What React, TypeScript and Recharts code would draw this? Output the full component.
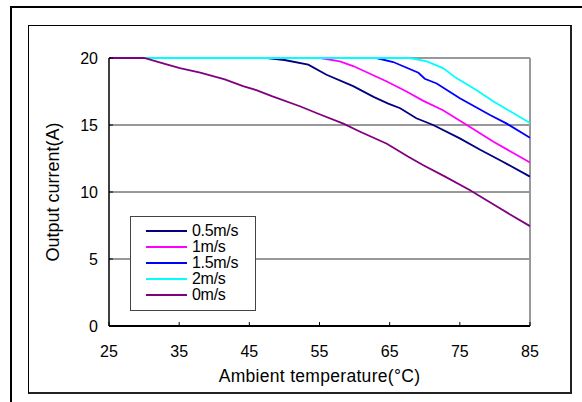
import React from "react";
import { LineChart, Line, XAxis, YAxis, ReferenceLine } from "recharts";

// ---- data ----
const xTicks = [25, 35, 45, 55, 65, 75, 85];
const yTicks = [0, 5, 10, 15, 20];

const t05 = [25, 47.5, 50, 53.4, 56, 59.8, 62.7, 64.8, 66.5, 68.8, 71.2, 75, 77.9, 81, 85];
const i05 = [20, 20, 19.85, 19.5, 18.75, 17.9, 17.1, 16.6, 16.25, 15.5, 15.0, 14.0, 13.15, 12.3, 11.15];

const t1 = [25, 55.1, 57.9, 59.8, 64.6, 67.4, 69.8, 72.6, 76, 79.8, 85];
const i1 = [20, 20, 19.75, 19.4, 18.25, 17.5, 16.8, 16.1, 15.0, 13.75, 12.2];

const t15 = [25, 63.1, 65.5, 69.1, 70, 71.7, 75, 79.3, 81.7, 85];
const i15 = [20, 20, 19.7, 18.9, 18.45, 18.1, 17.0, 15.75, 15.1, 14.05];

const t2 = [25, 67.9, 70.3, 72.6, 74.5, 77.4, 79.8, 85];
const i2 = [20, 20, 19.75, 19.25, 18.5, 17.6, 16.75, 15.15];

const t0 = [25, 30, 32.7, 35.1, 38, 41.5, 44.1, 46, 48.3, 52.2, 55, 58.4, 60.8, 64.6, 67.6, 69.8, 72.9, 76.4, 80.7, 85];
const i0 = [20, 20, 19.6, 19.25, 18.9, 18.4, 17.9, 17.6, 17.13, 16.4, 15.8, 15.1, 14.5, 13.6, 12.65, 12.0, 11.15, 10.15, 8.78, 7.45];

const seriesNames = ["0.5m/s", "1m/s", "1.5m/s", "2m/s", "0m/s"];
const seriesColors = ["#000080", "#FF00FF", "#0000FF", "#00FFFF", "#800080"];
const seriesTemps = [t05, t1, t15, t2, t0];
const seriesCurrents = [i05, i1, i15, i2, i0];

const series = seriesNames.map((name, k) => ({
  name,
  color: seriesColors[k],
  data: seriesTemps[k].map((t, j) => ({ t, i: seriesCurrents[k][j] })),
}));

const FONT = "'Liberation Sans', Arial, sans-serif";

export default function App() {
  return (
    <div
      style={{
        position: "fixed",
        left: 0,
        top: 0,
        width: 582,
        height: 402,
        overflow: "hidden",
        background: "#fff",
        fontFamily: FONT,
      }}
    >
      {/* outer frame */}
      <div
        style={{
          position: "absolute",
          left: 10,
          top: 6,
          width: 600,
          height: 420,
          borderLeft: "2px solid #000",
          borderTop: "2px solid #000",
        }}
      />
      {/* inner frame */}
      <div
        style={{
          position: "absolute",
          left: 28,
          top: 25,
          width: 541,
          height: 366,
          border: "1px solid #000",
          borderRight: "2px solid #222",
          borderBottom: "2px solid #222",
        }}
      />
      <div style={{ position: "absolute", left: 0, top: 0 }}>
        <LineChart
          width={582}
          height={402}
          margin={{ top: 58, right: 52, bottom: 16, left: 49 }}
        >
          <XAxis
            type="number"
            dataKey="t"
            domain={[25, 85]}
            ticks={xTicks}
            allowDataOverflow
            tickSize={-4}
            tickMargin={24}
            height={60}
            axisLine={{ stroke: "#000", strokeWidth: 2 }}
            tickLine={{ stroke: "#000", strokeWidth: 1 }}
            tick={{ fill: "#000", fontSize: 16, fontFamily: FONT }}
            label={{
              value: "Ambient temperature(°C)",
              position: "insideBottom",
              offset: 4,
              fill: "#000",
              fontSize: 17.5,
              fontFamily: FONT,
              letterSpacing: 0.3,
            }}
          />
          <YAxis
            type="number"
            domain={[0, 20]}
            ticks={yTicks}
            width={60}
            tickSize={-4}
            tickMargin={15}
            axisLine={{ stroke: "#000", strokeWidth: 1.5 }}
            tickLine={{ stroke: "#000", strokeWidth: 1 }}
            tick={{ fill: "#000", fontSize: 16, fontFamily: FONT }}
            label={{
              value: "Output current(A)",
              angle: -90,
              position: "insideLeft",
              offset: 4,
              fill: "#000",
              fontSize: 18,
              fontFamily: FONT,
              style: { textAnchor: "middle" },
            }}
          />
          <ReferenceLine y={5} stroke="#333" strokeWidth={1} />
          <ReferenceLine y={10} stroke="#333" strokeWidth={1} />
          <ReferenceLine y={15} stroke="#333" strokeWidth={1} />
          <ReferenceLine y={20} stroke="#999" strokeWidth={2} />
          <ReferenceLine x={85} stroke="#999" strokeWidth={2} />
          {series.map((s) => (
            <Line
              key={s.name}
              data={s.data}
              dataKey="i"
              name={s.name}
              type="linear"
              stroke={s.color}
              strokeWidth={1.8}
              dot={false}
              activeDot={false}
              isAnimationActive={false}
            />
          ))}
        </LineChart>
      </div>
      {/* legend */}
      <div
        style={{
          position: "absolute",
          left: 130,
          top: 216,
          width: 124,
          height: 93,
          border: "1px solid #444",
          background: "#fff",
        }}
      >
        {series.map((s, k) => (
          <div
            key={s.name}
            style={{
              position: "absolute",
              left: 15,
              top: 14 + 16 * k - 9,
              height: 18,
              display: "flex",
              alignItems: "center",
              whiteSpace: "nowrap",
            }}
          >
            <div style={{ width: 41, height: 2, background: s.color }} />
            <span
              style={{
                marginLeft: 5,
                fontSize: 16,
                lineHeight: "18px",
                color: "#000",
                letterSpacing: -0.3,
              }}
            >
              {s.name}
            </span>
          </div>
        ))}
      </div>
    </div>
  );
}
